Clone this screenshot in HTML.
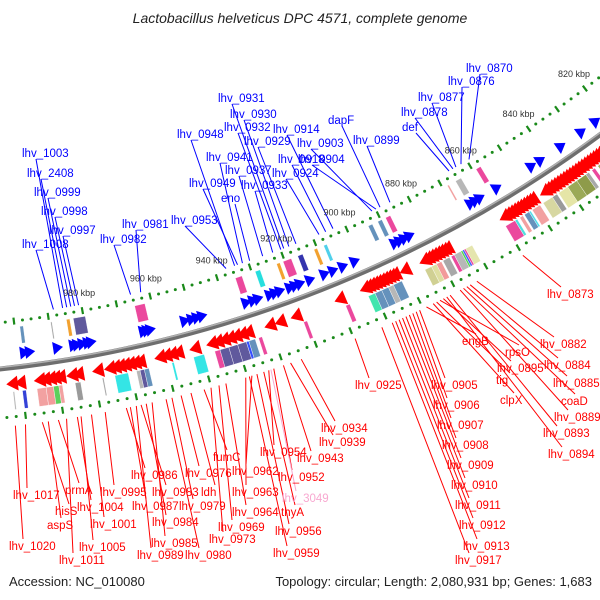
<!DOCTYPE html>
<html><head><meta charset="utf-8"><style>
html,body{margin:0;padding:0;background:#fff;}
svg{display:block;font-family:"Liberation Sans",sans-serif;}
</style></head><body>
<svg id="map" width="600" height="600" viewBox="0 0 600 600">
<text x="300" y="23" text-anchor="middle" font-size="14" font-style="italic" fill="#222">Lactobacillus helveticus DPC 4571, complete genome</text>
<text x="9" y="586" font-size="13" fill="#222">Accession: NC_010080</text>
<text x="592" y="586" text-anchor="end" font-size="13" fill="#222">Topology: circular; Length: 2,080,931 bp; Genes: 1,683</text>
</svg>
<script>
// ---- data ----
const scaleTicks = [820,840,860,880,900,920,940,960,980];
const blueGenes = [998,996.5,988.6,984,983,981.5,980,979,964,963,962,952,950,948.5,947,934,932,930.5,927,925.5,924,921,919.5,918,915,910.6,908,905,901.4,889,887.5,886,884.4,865,863.5,862,856.5,845,842,835,828,823];
const redGenes = [1002.6,1000.4,995,993.5,992,990.7,989.3,986,984.3,978.8,975.5,974,972.6,971.2,969.8,968.4,967,961.4,959.7,958,956.3,951.5,946.7,945,943.2,941.5,939.8,938,936.3,930,927,922.4,909.5,902,901,900,899,898,897,896,895,894,893,890,884,883,882,881,880,879,878,877,859,858,857,856,855,854,853,852,851,850,846,845,844,843,842,841,840,839,838,837,836,835,834,833,832,831,830,829,828,827,826,825,824];
const innerBoxStart = [998.5,989.6,985,983,965,935,929,922.5,920.5,916,911,908,894,891,888.5,868.5,865.8,859];
const innerBoxEnd   = [997.5,989.2,984,979.5,962,933,927.5,921.5,918,914.5,910,907,892.7,889.7,887,868,864,857.5];
const innerBoxColor = ["#4a7fb0","#999","#f0900a","#443c8c","#e8288c","#e8288c","#00d8d8","#f0900a","#e8288c","#1010a0","#f0900a","#30c8e8","#4a7fb0","#4a7fb0","#e8288c","#f09090","#aaa","#e8288c"];
const outerBoxStart = [1002.6,1000,996,993.5,991.5,990,985.5,978,974.5,968.5,967.5,966.3,958.6,952.5,946.5,945,942.5,940,937.5,936.8,934,921,908.7,902,900,898,896,894.5,885,883,881.5,879.5,877,876,874,873.5,873,872.5,860,857,855.5,854,852.5,851.5,848,845,843,840,837,834,832,830,826];
const outerBoxEnd   = [1002.2,999,993.5,991.5,990,989,984,977.6,970.8,967.5,966.3,965,958,949.5,945,942.5,940,937.5,936.8,935,933,920,907.5,900,898,896,894.5,892,883,881.5,880,877.5,876,874,873.5,873,872.5,870.5,857,856.3,854.5,852.5,852,849,845,843.5,840,837,834,833,831,827,824];
const outerBoxColor = ["#aaa","#1020d0","#f09090","#f08888","#40c840","#f09090","#888","#999","#10e0e0","#aaa","#443c8c","#4a7fb0","#10e0e0","#10e0e0","#e8288c","#443c8c","#443c8c","#443c8c","#1030ff","#4a7fb0","#e8288c","#e8288c","#e8288c","#20e0a0","#4a7fb0","#4a7fb0","#aaa","#4a7fb0","#c8c880","#d8d890","#f08888","#999","#e8288c","#aaa","#30d030","#2040ff","#e8288c","#e0e0a0","#e8288c","#30d8d8","#f09090","#4a7fb0","#30d8e8","#f09090","#d0d090","#888","#e0e098","#8a9a3a","#7a8a2a","#999","#e8288c","#8a9a3a","#d8d890"];
const redLabelText = ["lhv_1017","lhv_1020","prmA","hisS","aspS","lhv_1004","lhv_1001","lhv_1005","lhv_1011","lhv_0995","lhv_0986","lhv_0983","lhv_0987","lhv_0984","lhv_0985","lhv_0989","lhv_0976","ldh","lhv_0979","lhv_0980","lhv_0973","lhv_0969","fumC","lhv_0962","lhv_0963","lhv_0964","lhv_0954","lhv_0952","lhv_3049","thyA","lhv_0956","lhv_0959","lhv_0934","lhv_0939","lhv_0943","lhv_0925","lhv_0905","lhv_0906","lhv_0907","lhv_0908","lhv_0909","lhv_0910","lhv_0911","lhv_0912","lhv_0913","lhv_0917","engB","rpsO","lhv_0895","tig","clpX","lhv_0882","lhv_0884","lhv_0885","coaD","lhv_0889","lhv_0893","lhv_0894","lhv_0873"];
const redLabelKbp = [1000.3,1003,991.5,995.8,994.2,986.4,982.6,985.4,989.3,978.9,973.2,969.2,972.1,967.8,966.2,970.5,958.3,955.6,960.8,962.4,950.1,947.9,952,938.8,940.5,946,934.1,932.7,933.5,935.5,937.4,939.5,925,928,930,909.7,891,892,893,894,895,896,897,898,899,902,889,885,884,886,887,874,876,877,878,879,882,883,860];
const redLabelX = [13,9,65,55,47,77,90,79,59,100,131,152,132,152,151,137,185,201,179,185,209,218,213,232,232,232,260,278,282,281,275,273,321,319,297,355,431,433,437,442,447,451,455,459,463,455,462,505,497,496,500,540,544,553,561,554,543,548,547];
const redLabelY = [495,546,490,511,525,507,524,547,560,492,475,492,506,522,543,555,473,492,506,555,539,527,457,471,492,512,452,477,498,512,531,553,428,442,458,385,385,405,425,445,465,485,505,525,546,560,341,352,368,380,400,344,365,383,401,417,433,454,294];
const blueLabelText = ["lhv_1003","lhv_2408","lhv_0999","lhv_0998","lhv_0997","lhv_1008","lhv_0981","lhv_0982","lhv_0953","lhv_0948","lhv_0949","lhv_0941","eno","lhv_0937","lhv_0933","lhv_0931","lhv_0930","lhv_0932","lhv_0929","lhv_0914","lhv_0918","lhv_0924","lhv_0903","lhv_0904","lhv_0899","dapF","def","lhv_0878","lhv_0877","lhv_0876","lhv_0870"];
const blueLabelKbp = [985.5,984.3,983.1,982,980.8,988.2,962.4,965.4,936.7,934.1,933.2,931.7,929.5,925.5,922.4,919,917.4,919.9,915.2,903.6,905.9,908,891.2,889.9,885.4,888.6,866,864.7,863.7,862,859.3];
const blueLabelX = [22,27,34,41,49,22,122,100,171,177,189,206,221,225,241,218,230,224,244,273,278,272,297,298,353,328,402,401,418,448,466];
const blueLabelY = [153,173,192,211,230,244,224,239,220,134,183,157,198,170,185,98,114,127,141,129,159,173,143,159,140,120,127,112,97,81,68];

// ---- geometry ----
const CX=-131, CY=-852;
function ang(k){return (27.2-(k-880)*0.168)*Math.PI/180;}
function P(k,r){const a=ang(k);return [CX+r*Math.sin(a),CY+r*Math.cos(a)];}
const NS="http://www.w3.org/2000/svg";
const svg=document.getElementById('map');
function mk(tag,attrs,parent){const e=document.createElementNS(NS,tag);for(const k in attrs)e.setAttribute(k,attrs[k]);(parent||svg).appendChild(e);return e;}
function gp(name){const g=mk('g',{});return g;}
function pts(a){return a.map(p=>p[0].toFixed(1)+','+p[1].toFixed(1)).join(' ');}

// connectors
const gLines=gp('label-connectors');
redLabelKbp.forEach((k,i)=>{const s=P(k,1286);
 const l=mk('line',{x1:s[0],y1:s[1],x2:redLabelX[i]+14,y2:redLabelY[i]-7,stroke:redLabelText[i]==='lhv_3049'?'#f8a8d0':'#f00','stroke-width':1},gLines);
 
 });
blueLabelKbp.forEach((k,i)=>{const s=P(k,1176);
 const l=mk('line',{x1:s[0],y1:s[1],x2:blueLabelX[i]+14,y2:blueLabelY[i]+6,stroke:'#00f','stroke-width':1},gLines);
 
 });

// dotted tick rings
function ring(r,name){const g=gp(name);
 for(let k=1012.5;k>=812;k-=2.5){
  if(Math.abs(k/10-Math.round(k/10))<0.01){const a=P(k,r-3.5),b=P(k,r+3.5);
   const d=mk('line',{x1:a[0],y1:a[1],x2:b[0],y2:b[1],stroke:'#1a8a1a','stroke-width':2.2},g);
   
   }
  else{const c=P(k,r);const d=mk('circle',{cx:c[0],cy:c[1],r:1.5,fill:'#1a8a1a'},g);
   
   }
 }}
ring(1182,'inner-tick-ring');
ring(1277,'outer-tick-ring');

// scale labels
const gS=gp('scale-labels');
scaleTicks.forEach(k=>{const c=P(k,1164);
 const t=mk('text',{x:c[0],y:c[1]+3,'text-anchor':'middle','font-size':9,fill:'#333'},gS);
 t.textContent=k+' kbp';
 
 });

// backbone
const g0=gp('backbone');
const bb=mk('circle',{cx:CX,cy:CY,r:1228,fill:'none',stroke:'#6e6e6e','stroke-width':5},g0);


mk('circle',{cx:CX,cy:CY,r:1226.5,fill:'none',stroke:'#b0b0b0','stroke-width':1.5},g0);

// boxes
function boxes(starts,ends,cols,r1,r2,name){const g=gp(name);
 starts.forEach((s,i)=>{const e=ends[i];
  const p=mk('polygon',{points:pts([P(s,r1),P(e,r1),P(e,r2),P(s,r2)]),fill:cols[i],'fill-opacity':0.85,stroke:'#fff','stroke-width':0.4},g);
  
  });}
boxes(innerBoxStart,innerBoxEnd,innerBoxColor,1188,1205,'inner-features');
boxes(outerBoxStart,outerBoxEnd,outerBoxColor,1252,1270,'outer-features');

// arrows
const gB=gp('forward-genes');
blueGenes.forEach(k=>{const p=mk('polygon',{points:pts([P(k+1.4,1208),P(k+1.4,1221),P(k-1.4,1214.5)]),fill:'#0000ff'},gB);
 
 });
const gR=gp('reverse-genes');
redGenes.forEach(k=>{const p=mk('polygon',{points:pts([P(k-1.6,1236.5),P(k-1.6,1251.5),P(k+1.6,1244)]),fill:'#ff0000'},gR);
 
 });

// labels
const gL=gp('gene-labels');
redLabelText.forEach((s,i)=>{const t=mk('text',{x:redLabelX[i],y:redLabelY[i]+4,'font-size':11.5,fill:s==='lhv_3049'?'#f8a8d0':'#f00'},gL);
 t.textContent=s;
 
 });
blueLabelText.forEach((s,i)=>{const t=mk('text',{x:blueLabelX[i],y:blueLabelY[i]+4,'font-size':11.5,fill:'#00f'},gL);
 t.textContent=s;
 
 });
</script>
</body></html>
